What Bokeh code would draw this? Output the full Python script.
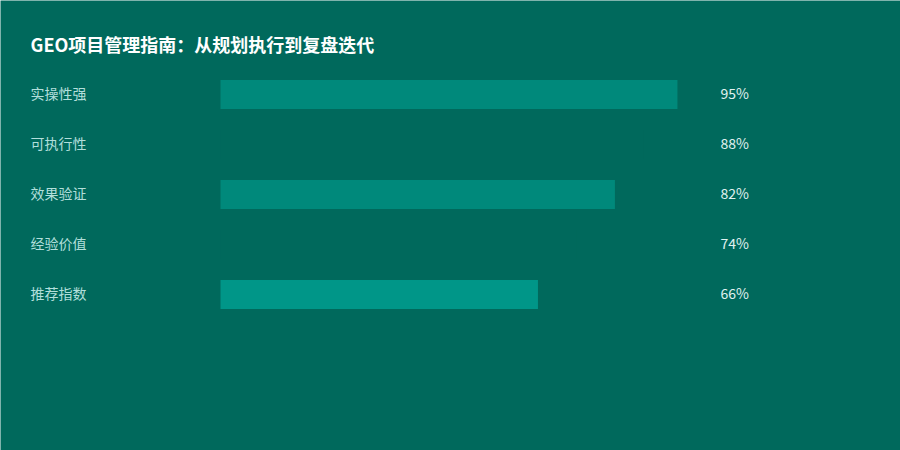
from bokeh.plotting import figure
from bokeh.models import Range1d, ColumnDataSource
from bokeh.core.properties import value
from bokeh.embed import file_html
from bokeh.resources import INLINE

title = "GEO项目管理指南：从规划执行到复盘迭代"
categories = ["实操性强", "可执行性", "效果验证", "经验价值", "推荐指数"]
values = [95, 88, 82, 74, 66]
value_labels = ["95%", "88%", "82%", "74%", "66%"]
bar_colors = ["#00897b", "#00695c", "#00897b", "#00695c", "#009688"]

BG = "#00695c"
FONT = "Noto Sans CJK SC"

W, H = 900, 450
px_per_unit = 4.81          # pixels per percent
bar_left_px = 220           # figure-x where value 0 sits
row_px = 50                 # pixels per row
row0_px = 94                # figure-y of first row centre

x_start = -bar_left_px / px_per_unit
x_end = (W - bar_left_px) / px_per_unit
y_top = -row0_px / row_px
y_bottom = (H - row0_px) / row_px

p = figure(width=W, height=H, output_backend="svg", toolbar_location=None,
           x_range=Range1d(x_start, x_end), y_range=Range1d(y_bottom, y_top),
           min_border=0, min_border_left=0, min_border_right=0,
           min_border_top=0, min_border_bottom=0)
p.axis.visible = False
p.grid.visible = False
p.outline_line_color = None
p.background_fill_color = BG
p.border_fill_color = BG

rows = list(range(len(categories)))
src = ColumnDataSource(dict(y=rows, v=values, c=bar_colors, cat=categories, lab=value_labels,
                            lx=[(30 - bar_left_px) / px_per_unit] * len(rows),
                            vx=[(720 - bar_left_px) / px_per_unit] * len(rows)))

p.hbar(y="y", left=0, right="v", height=29 / row_px, fill_color="c", line_color=None, source=src)

p.text(x="lx", y="y", text="cat", source=src, text_font=value(FONT), text_font_size="14px",
       text_color="#b2dfdb", text_align="left", text_baseline="middle", y_offset=-2)
p.text(x="vx", y="y", text="lab", source=src, text_font=value(FONT), text_font_size="14px",
       text_color="#e0f2f1", text_align="left", text_baseline="middle", y_offset=-2)

p.text(x=[(30 - bar_left_px) / px_per_unit], y=[(45 - row0_px) / row_px], text=[title],
       text_font=value(FONT), text_font_size="18px", text_font_style="bold",
       text_color="#ffffff", text_align="left", text_baseline="middle", y_offset=-2)

open("out.html", "w").write(file_html(p, INLINE))
